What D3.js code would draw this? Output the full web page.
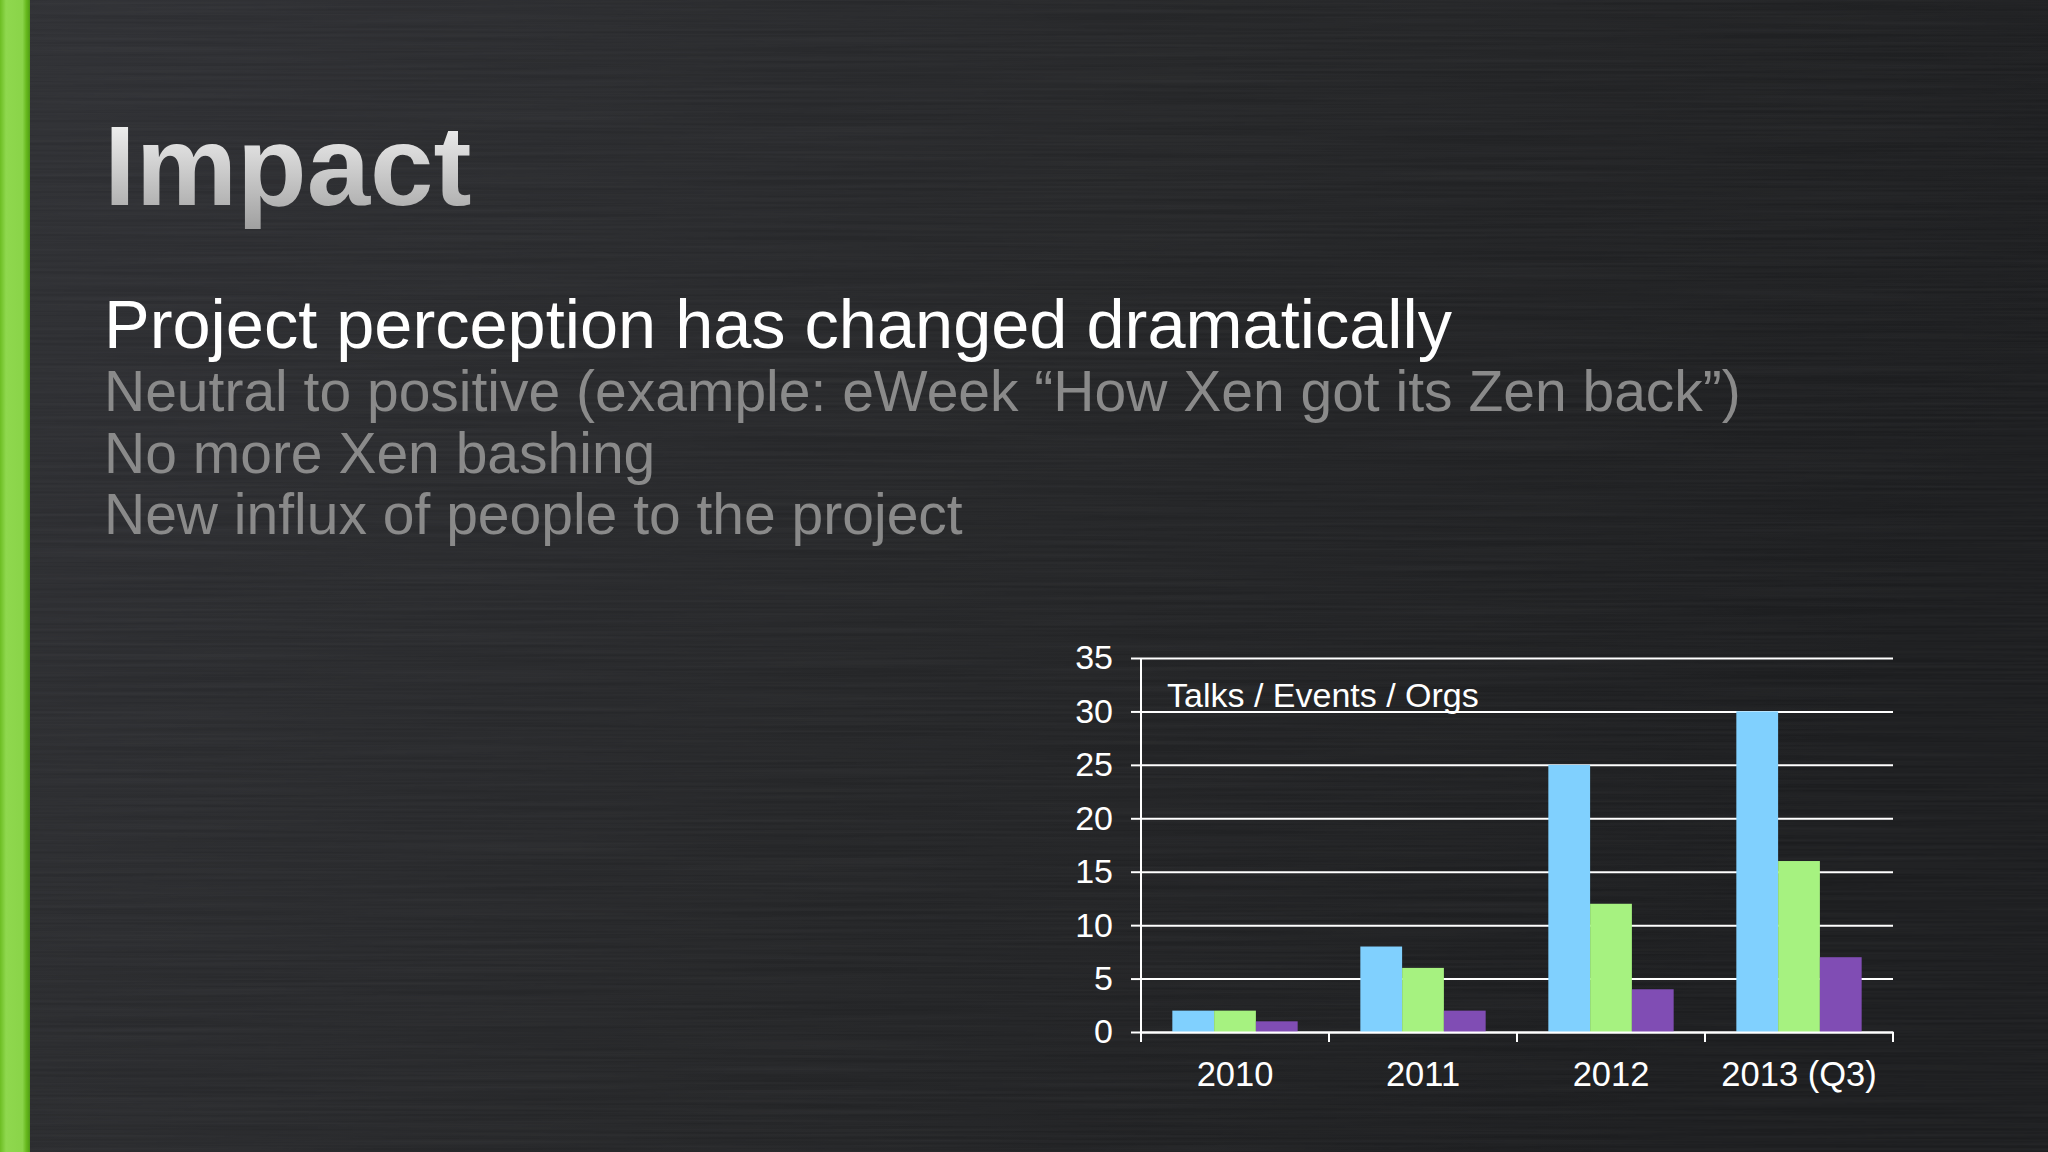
<!DOCTYPE html>
<html>
<head>
<meta charset="utf-8">
<script src="https://cdn.jsdelivr.net/npm/d3@7"></script>
<style>
  html, body { margin: 0; padding: 0; background: #26272a; overflow: hidden; }
  svg { display: block; }
</style>
</head>
<body>
<script>
// ---- data ----
const categories = ["2010", "2011", "2012", "2013 (Q3)"];
const seriesNames = ["Talks", "Events", "Orgs"];
const talks  = [2, 8, 25, 30];
const events = [2, 6, 12, 16];
const orgs   = [1, 2, 4, 7];
const yTicks = [0, 5, 10, 15, 20, 25, 30, 35];
const chartLabel = "Talks / Events / Orgs";
const titleText = "Impact";
const headline = "Project perception has changed dramatically";
const bullets = [
  "Neutral to positive (example: eWeek \u201cHow Xen got its Zen back\u201d)",
  "No more Xen bashing",
  "New influx of people to the project"
];

const W = 2048, H = 1152;
const FONT = "'Liberation Sans', Arial, Helvetica, sans-serif";
const seriesColors = ["#80D0FE", "#A6F280", "#804DB4"];

const svg = d3.select("body").append("svg").attr("width", W).attr("height", H);
const defs = svg.append("defs");

// background gradient
const bg = defs.append("linearGradient").attr("id", "bg").attr("x1", 0).attr("y1", 0).attr("x2", 1).attr("y2", 0.3);
bg.append("stop").attr("offset", "0%").attr("stop-color", "#2f3034");
bg.append("stop").attr("offset", "55%").attr("stop-color", "#252628");
bg.append("stop").attr("offset", "100%").attr("stop-color", "#1c1d1f");
svg.append("rect").attr("width", W).attr("height", H).attr("fill", "url(#bg)");

// brushed texture
const f = defs.append("filter").attr("id", "brush").attr("x", 0).attr("y", 0).attr("width", "100%").attr("height", "100%");
f.append("feTurbulence").attr("type", "fractalNoise").attr("baseFrequency", "0.003 0.35").attr("numOctaves", 2).attr("seed", 3).attr("result", "n");
f.append("feColorMatrix").attr("type", "matrix")
  .attr("values", "0 0 0 0 0.5  0 0 0 0 0.5  0 0 0 0 0.52  0 0 0 0.18 -0.04");
svg.append("rect").attr("width", W).attr("height", H).attr("filter", "url(#brush)").attr("opacity", 0.5);

// left green bar
const gb = defs.append("linearGradient").attr("id", "gbar").attr("x1", 0).attr("x2", 1).attr("y1", 0).attr("y2", 0);
gb.append("stop").attr("offset", "0%").attr("stop-color", "#6cbd22");
gb.append("stop").attr("offset", "20%").attr("stop-color", "#8fd84e");
gb.append("stop").attr("offset", "75%").attr("stop-color", "#8ad449");
gb.append("stop").attr("offset", "88%").attr("stop-color", "#66b81d");
gb.append("stop").attr("offset", "100%").attr("stop-color", "#4f9a14");
svg.append("rect").attr("x", 0).attr("y", 0).attr("width", 30).attr("height", H).attr("fill", "url(#gbar)");

// title
const tg = defs.append("linearGradient").attr("id", "tg").attr("x1", 0).attr("x2", 0).attr("y1", 0).attr("y2", 1);
tg.append("stop").attr("offset", "0%").attr("stop-color", "#ffffff");
tg.append("stop").attr("offset", "100%").attr("stop-color", "#a0a0a0");
svg.append("text").attr("x", 104).attr("y", 205)
  .attr("font-family", FONT).attr("font-weight", "bold").attr("font-size", 114)
  .attr("fill", "url(#tg)").text(titleText);

svg.append("text").attr("x", 104).attr("y", 348)
  .attr("font-family", FONT).attr("font-size", 68.5).attr("fill", "#ffffff").text(headline);

svg.selectAll("text.bullet").data(bullets).enter().append("text")
  .attr("class", "bullet")
  .attr("x", 104).attr("y", (d, i) => 411 + i * 61.5)
  .attr("font-family", FONT).attr("font-size", 57).attr("fill", "#8a8a8a")
  .text(d => d);

// ---- chart ----
const cLeft = 1141, cRight = 1893, cTop = 658, cBottom = 1032;
const x0 = d3.scaleBand().domain(categories).range([cLeft, cRight]).paddingInner(0).paddingOuter(0);
const x1 = d3.scaleBand().domain(seriesNames).range([0, x0.bandwidth()]).paddingInner(0).paddingOuter(0.75);
const y = d3.scaleLinear().domain([0, 35]).range([cBottom, cTop]);
const values = [talks, events, orgs];

// gridlines (with outward ticks on left)
const yAxis = d3.axisLeft(y).tickValues(yTicks).tickSize(-(cRight - cLeft)).tickPadding(28).tickFormat(d3.format("d"));
const yg = svg.append("g").attr("transform", `translate(${cLeft},0)`).call(yAxis);
yg.select(".domain").remove();
yg.selectAll(".tick line").attr("stroke", "#ffffff").attr("stroke-width", 2);
yg.selectAll(".tick").append("line").attr("x1", 0).attr("x2", -10).attr("stroke", "#ffffff").attr("stroke-width", 2);
yg.selectAll(".tick text").attr("fill", "#ffffff").attr("font-family", FONT).attr("font-size", 34);

// bars
const groups = svg.append("g").selectAll("g").data(categories).enter().append("g")
  .attr("transform", d => `translate(${x0(d)},0)`);
groups.selectAll("rect").data((c, i) => seriesNames.map((s, j) => ({ s, v: values[j][i], j })))
  .enter().append("rect")
  .attr("x", d => x1(d.s))
  .attr("y", d => y(d.v))
  .attr("width", x1.bandwidth())
  .attr("height", d => cBottom - y(d.v))
  .attr("fill", d => seriesColors[d.j]);

// left axis line
svg.append("line").attr("x1", cLeft).attr("x2", cLeft).attr("y1", cTop).attr("y2", cBottom + 10)
  .attr("stroke", "#ffffff").attr("stroke-width", 2);

// x axis
const xAxis = d3.axisBottom(x0).tickSize(0).tickPadding(30);
const xg = svg.append("g").attr("transform", `translate(0,${cBottom})`).call(xAxis);
xg.select(".domain").attr("stroke", "#ffffff").attr("stroke-width", 2);
xg.selectAll(".tick text").attr("fill", "#ffffff").attr("font-family", FONT).attr("font-size", 34.5);
// category boundary ticks
const bounds = categories.map(c => x0(c)).concat([cRight]);
xg.selectAll("line.bt").data(bounds).enter().append("line").attr("class", "bt")
  .attr("x1", d => d).attr("x2", d => d).attr("y1", 0).attr("y2", 10)
  .attr("stroke", "#ffffff").attr("stroke-width", 2);

// chart label
svg.append("text").attr("x", 1167).attr("y", 707)
  .attr("font-family", FONT).attr("font-size", 34).attr("fill", "#ffffff").text(chartLabel);
</script>
</body>
</html>
